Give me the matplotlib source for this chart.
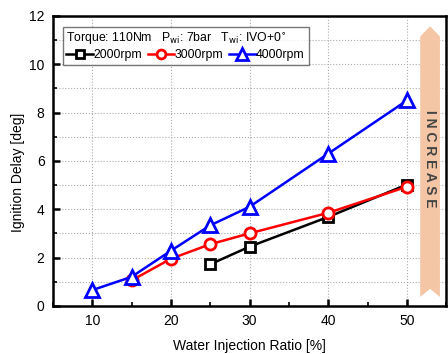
import matplotlib.pyplot as plt
from matplotlib.patches import Polygon
from matplotlib.ticker import MultipleLocator

plt.rcParams['font.family'] = ['Liberation Sans', 'DejaVu Sans']

# data
x2000 = [25, 30, 40, 50]
y2000 = [1.72, 2.45, 3.68, 5.02]
x3000 = [15, 20, 25, 30, 40, 50]
y3000 = [1.05, 1.95, 2.55, 3.0, 3.85, 4.93]
x4000 = [10, 15, 20, 25, 30, 40, 50]
y4000 = [0.65, 1.2, 2.28, 3.33, 4.1, 6.3, 8.5]

fig = plt.figure(figsize=(4.48, 3.54), dpi=100)
ax = fig.add_axes([0.118, 0.136, 0.878, 0.819])

ax.plot(x2000, y2000, '-s', color='black', lw=1.8, ms=7, mfc='white', mew=2, label='2000rpm')
ax.plot(x3000, y3000, '-o', color='red', lw=1.8, ms=8, mfc='white', mew=2, label='3000rpm')
ax.plot(x4000, y4000, '-^', color='blue', lw=1.8, ms=10, mfc='white', mew=2, label='4000rpm')

ax.set_xlim(5, 55)
ax.set_ylim(0, 12)
ax.xaxis.set_major_locator(MultipleLocator(10))
ax.xaxis.set_minor_locator(MultipleLocator(5))
ax.yaxis.set_major_locator(MultipleLocator(2))
ax.yaxis.set_minor_locator(MultipleLocator(1))
ax.tick_params(which='major', direction='in', length=5, width=1.8, labelsize=10, pad=6)
ax.tick_params(which='minor', direction='in', length=3, width=1.2)
for s in ax.spines.values():
    s.set_linewidth(1.8)
ax.grid(True, axis='x', which='major', color='#aaaaaa', ls=':', lw=0.8)
ax.grid(True, axis='y', which='both', color='#aaaaaa', ls=':', lw=0.8)
ax.set_axisbelow(True)

ax.set_xlabel('Water Injection Ratio [%]', fontsize=10, labelpad=8)
ax.set_ylabel('Ignition Delay [deg]', fontsize=10)
ax.yaxis.set_label_coords(-0.07, 0.462)

# the "INCREASE" arrow band
arrow = Polygon([(51.7, 11.15), (52.95, 11.57), (54.2, 11.15), (54.2, 0.37),
                 (52.95, 0.7), (51.7, 0.37)], closed=True,
                facecolor='#f5c6a5', edgecolor='none', zorder=1)
ax.add_patch(arrow)
ax.text(52.95, 6.1, 'I N C R E A S E', rotation=-90, ha='center', va='center',
        fontsize=10, fontweight='bold', color='#444444', zorder=2)

title = r'Torque: 110Nm   P$_{\mathrm{wi}}$: 7bar   T$_{\mathrm{wi}}$: IVO+0$^{\circ}$'
leg = ax.legend(title=title, ncol=3, loc='upper left', bbox_to_anchor=(0.025, 0.962),
                fontsize=8.8, title_fontsize=8.8, alignment='left', frameon=True,
                fancybox=False, edgecolor='#555555', handlelength=2.2,
                handletextpad=0.05, columnspacing=0.4, borderpad=0.3,
                labelspacing=0.2, borderaxespad=0.0, markerscale=0.8)
leg.get_frame().set_linewidth(1.0)

fig.savefig('out.png', dpi=100)
